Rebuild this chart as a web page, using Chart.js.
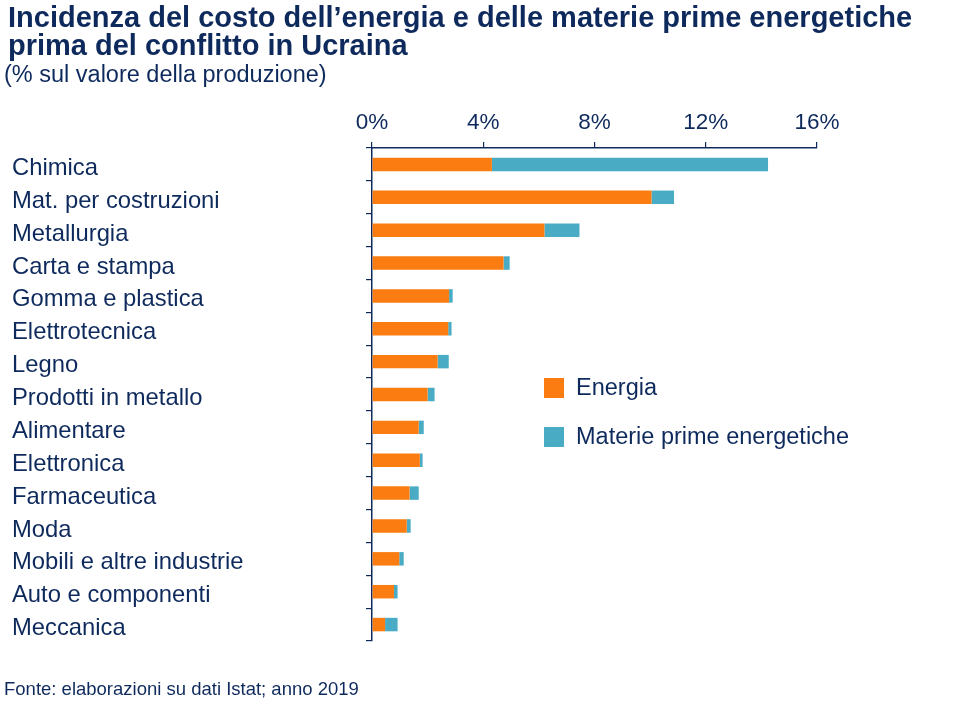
<!DOCTYPE html>
<html>
<head>
<meta charset="utf-8">
<script src="https://cdn.jsdelivr.net/npm/chart.js@4.4.1/dist/chart.umd.min.js"></script>
<style>
  html, body { margin: 0; padding: 0; background: #ffffff; }
  #wrap { position: relative; width: 960px; height: 720px; overflow: hidden; font-family: "Liberation Sans", Arial, sans-serif; color: #0e2a5c; }
  #title { position: absolute; left: 8px; top: 3px; font-size: 29px; font-weight: bold; line-height: 28px; color: #0e2a5c; white-space: nowrap; }
  #subtitle { position: absolute; left: 4px; top: 61px; font-size: 23.5px; line-height: 26px; color: #0e2a5c; white-space: nowrap; }
  #note { position: absolute; left: 4px; top: 679px; font-size: 18.5px; line-height: 20px; color: #0e2a5c; white-space: nowrap; }
  canvas { position: absolute; left: 0; top: 0; }
</style>
</head>
<body>
<div id="wrap">
  <canvas id="c" width="960" height="720"></canvas>
  <div id="title">Incidenza del costo dell’energia e delle materie prime energetiche<br>prima del conflitto in Ucraina</div>
  <div id="subtitle">(% sul valore della produzione)</div>
  <div id="note">Fonte: elaborazioni su dati Istat; anno 2019</div>
</div>
<script>
const categories = [
  "Chimica", "Mat. per costruzioni", "Metallurgia", "Carta e stampa",
  "Gomma e plastica", "Elettrotecnica", "Legno", "Prodotti in metallo",
  "Alimentare", "Elettronica", "Farmaceutica", "Moda",
  "Mobili e altre industrie", "Auto e componenti", "Meccanica"
];
const energia = [4.31, 10.05, 6.20, 4.73, 2.77, 2.74, 2.36, 2.00, 1.68, 1.72, 1.35, 1.25, 0.98, 0.79, 0.47];
const materiePrime = [9.93, 0.81, 1.26, 0.22, 0.13, 0.12, 0.40, 0.25, 0.18, 0.10, 0.33, 0.14, 0.16, 0.13, 0.45];
const xTicks = [0, 4, 8, 12, 16];
const seriesNames = ["Energia", "Materie prime energetiche"];

const NAVY = "#0e2a5c";
const ORANGE = "#fb7c10";
const TEAL = "#4aabc5";
const FONT = "'Liberation Sans', Arial, sans-serif";

const legendPlugin = {
  id: "customLegend",
  afterDraw(chart) {
    const ctx = chart.ctx;
    ctx.save();
    const x = 544, y0 = 378, gap = 49, box = 20;
    chart.data.datasets.forEach((ds, i) => {
      const y = y0 + i * gap;
      ctx.fillStyle = ds.backgroundColor;
      ctx.fillRect(x, y, box, box);
      ctx.fillStyle = NAVY;
      ctx.font = "23.5px " + FONT;
      ctx.textBaseline = "middle";
      ctx.textAlign = "left";
      ctx.fillText(ds.label, x + 32, y + box / 2 + 1);
    });
    ctx.restore();
  }
};

new Chart(document.getElementById("c"), {
  type: "bar",
  data: {
    labels: categories,
    datasets: [
      { label: seriesNames[0], data: energia, backgroundColor: ORANGE, borderWidth: 0 },
      { label: seriesNames[1], data: materiePrime, backgroundColor: TEAL, borderWidth: 0 }
    ]
  },
  options: {
    indexAxis: "y",
    responsive: false,
    animation: false,
    devicePixelRatio: 1,
    layout: { padding: { left: 12, right: 143, top: 100, bottom: 79 } },
    datasets: { bar: { categoryPercentage: 1, barPercentage: 0.41 } },
    plugins: {
      legend: { display: false },
      tooltip: { enabled: false },
      title: { display: false }
    },
    scales: {
      x: {
        position: "top",
        stacked: true,
        min: 0,
        max: 16,
        afterBuildTicks(axis) { axis.ticks = xTicks.map(v => ({ value: v })); },
        afterFit(axis) { axis.height = 48; },
        ticks: {
          color: NAVY,
          font: { family: FONT, size: 22.5 },
          padding: 6,
          maxRotation: 0,
          callback: v => v + "%"
        },
        grid: { drawOnChartArea: false, drawTicks: true, tickLength: 6, color: NAVY, lineWidth: 1.2 },
        border: { display: true, color: NAVY, width: 1.5 }
      },
      y: {
        stacked: true,
        afterFit(axis) { axis.width = 360; },
        ticks: {
          color: NAVY,
          font: { family: FONT, size: 23.8 },
          crossAlign: "far",
          padding: 8,
          labelOffset: 4
        },
        grid: { drawOnChartArea: false, drawTicks: true, tickLength: 6, offset: true, color: NAVY, lineWidth: 1.2 },
        border: { display: true, color: NAVY, width: 1.5 }
      }
    }
  },
  plugins: [legendPlugin]
});
</script>
</body>
</html>
